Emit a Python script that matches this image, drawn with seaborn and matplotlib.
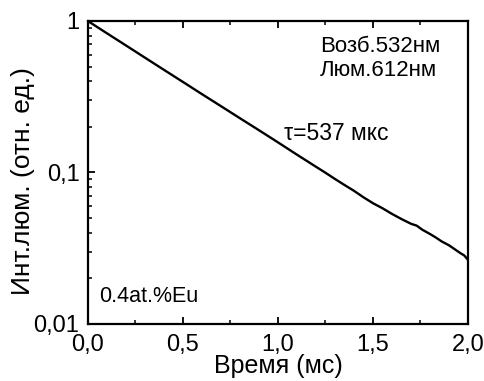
import matplotlib
matplotlib.use("Agg")
import matplotlib.pyplot as plt
import matplotlib.ticker as mticker
import seaborn as sns
import pandas as pd

# Data (time in ms, normalised intensity)
time_ms = [0.00, 0.10, 0.20, 0.30, 0.40, 0.50, 0.60, 0.70, 0.80, 0.90, 1.00,
           1.10, 1.20, 1.25, 1.30, 1.35, 1.40, 1.45, 1.50, 1.55, 1.60, 1.65,
           1.70, 1.73, 1.76, 1.80, 1.83, 1.86, 1.90, 1.93, 1.96, 1.98, 2.00]
intensity = [1.000, 0.830, 0.690, 0.573, 0.476, 0.396, 0.329, 0.274, 0.228, 0.190, 0.158,
             0.131, 0.109, 0.0995, 0.0905, 0.0826, 0.0756, 0.0685, 0.0626, 0.0580, 0.0532, 0.0492,
             0.0458, 0.0445, 0.0418, 0.0392, 0.0372, 0.0351, 0.0330, 0.0311, 0.0293, 0.0283, 0.0264]

x_ticks = [0.0, 0.5, 1.0, 1.5, 2.0]
x_tick_labels = ["0,0", "0,5", "1,0", "1,5", "2,0"]
y_ticks = [0.01, 0.1, 1]
y_tick_labels = ["0,01", "0,1", "1"]

df = pd.DataFrame({"t": time_ms, "I": intensity})

sns.set_style("ticks")
plt.rcParams["font.family"] = ["Liberation Sans", "DejaVu Sans"]
plt.rcParams["text.color"] = "black"
plt.rcParams["axes.labelcolor"] = "black"

fig, ax = plt.subplots(figsize=(4.85, 3.81), dpi=100)
fig.subplots_adjust(left=0.181, right=0.965, top=0.945, bottom=0.150)

sns.lineplot(data=df, x="t", y="I", ax=ax, color="black", linewidth=1.7)

ax.set_yscale("log")
ax.set_xlim(0, 2.0)
ax.set_ylim(0.01, 1)
ax.set_xticks(x_ticks)
ax.set_xticklabels(x_tick_labels)
ax.xaxis.set_minor_locator(mticker.MultipleLocator(0.25))
ax.set_yticks(y_ticks)
ax.set_yticklabels(y_tick_labels)
ax.yaxis.set_minor_locator(mticker.LogLocator(base=10, subs=range(2, 10)))
ax.yaxis.set_minor_formatter(mticker.NullFormatter())

for s in ax.spines.values():
    s.set_linewidth(1.6)
    s.set_color("black")

ax.tick_params(axis="both", which="major", direction="in", length=5, width=1.3,
               labelsize=17, colors="black")
ax.tick_params(axis="both", which="minor", direction="in", length=3, width=1.1, colors="black")
ax.tick_params(axis="x", which="both", top=True)
ax.tick_params(axis="x", which="major", pad=7)
ax.tick_params(axis="y", which="major", pad=6)

ax.set_xlabel("Время (мс)", fontsize=18, labelpad=-1, color="black")
ax.set_ylabel("Инт.люм. (отн. ед.)", fontsize=19, color="black")
ax.yaxis.set_label_coords(-0.14, 0.47)

ax.text(0.61, 0.915, "Возб.532нм", transform=ax.transAxes, fontsize=16, va="center", ha="left", color="black")
ax.text(0.61, 0.835, "Люм.612нм", transform=ax.transAxes, fontsize=16, va="center", ha="left", color="black")
ax.text(0.515, 0.63, "τ=537 мкс", transform=ax.transAxes, fontsize=16.5, va="center", ha="left", color="black")
ax.text(0.03, 0.09, "0.4at.%Eu", transform=ax.transAxes, fontsize=15.5, va="center", ha="left", color="black")

fig.savefig("out.png", dpi=100)
